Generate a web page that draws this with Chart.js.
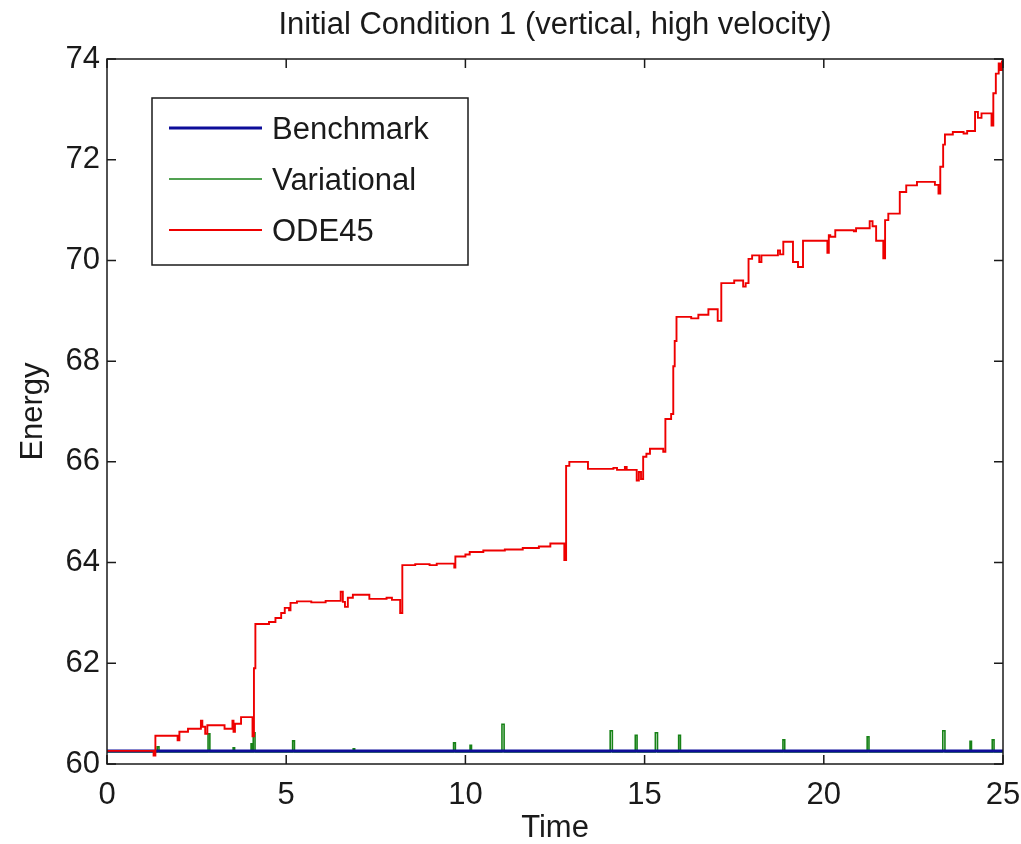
<!DOCTYPE html>
<html>
<head>
<meta charset="utf-8">
<title>Initial Condition 1 (vertical, high velocity)</title>
<script src="https://cdn.jsdelivr.net/npm/chart.js@4/dist/chart.umd.min.js"></script>
<style>
    html, body { margin: 0; padding: 0; background: #fff; }
</style>
</head>
<body>
<canvas id="energyChart" width="1021" height="844"></canvas>
<script>
// Benchmark: flat energy
const benchTime = [0, 25];
const benchEnergy = [60.26, 60.26];

// Variational: stays on the benchmark, with short spikes (value holds until next time)
const varTime = [0, 1.40, 1.45, 2.82, 2.87, 3.52, 3.56, 4.02, 4.05, 4.08, 4.13, 5.18, 5.23, 6.87, 6.91,
    9.67, 9.72, 10.13, 10.17, 11.02, 11.08, 14.04, 14.10, 14.74, 14.79, 15.30, 15.36, 15.95, 16.00,
    18.86, 18.91, 21.21, 21.26, 23.32, 23.38, 24.08, 24.12, 24.70, 24.75, 25];
const varEnergy = [60.24, 60.34, 60.24, 60.60, 60.24, 60.32, 60.24, 60.40, 60.24, 60.62, 60.24, 60.46, 60.24, 60.30, 60.24,
    60.42, 60.24, 60.37, 60.24, 60.79, 60.24, 60.66, 60.24, 60.57, 60.24, 60.62, 60.24, 60.57, 60.24,
    60.48, 60.24, 60.54, 60.24, 60.66, 60.24, 60.45, 60.24, 60.48, 60.24, 60.24];

// ODE45: staircase drift (value holds until next time)
const odeTime = [0, 1.30, 1.35, 1.97, 2.02, 2.26, 2.62, 2.66, 2.74, 2.80, 3.28, 3.50, 3.53, 3.57, 3.74,
    4.06, 4.10, 4.14, 4.52, 4.70, 4.86, 4.96, 5.08, 5.12, 5.30, 5.70, 6.10, 6.52, 6.58, 6.64, 6.72,
    6.86, 7.32, 7.80, 7.95, 8.18, 8.24, 8.60, 9.00, 9.20, 9.69, 9.72, 10.00, 10.12, 10.50, 11.10,
    11.60, 12.05, 12.37, 12.76, 12.81, 12.90, 13.42, 14.13, 14.23, 14.45, 14.50, 14.78, 14.84, 14.90,
    14.96, 15.05, 15.15, 15.52, 15.58, 15.74, 15.80, 15.84, 15.89, 16.30, 16.50, 16.78, 17.04, 17.14,
    17.50, 17.75, 17.82, 17.90, 18.00, 18.20, 18.26, 18.72, 18.78, 18.87, 19.14, 19.28, 19.42, 20.10,
    20.14, 20.18, 20.32, 20.84, 20.90, 21.28, 21.36, 21.46, 21.66, 21.71, 21.80, 22.12, 22.30, 22.60,
    23.10, 23.20, 23.25, 23.33, 23.38, 23.60, 23.90, 24.00, 24.22, 24.30, 24.40, 24.68, 24.73, 24.80,
    24.88, 24.93, 24.97, 25];
const odeEnergy = [60.26, 60.17, 60.56, 60.47, 60.64, 60.70, 60.86, 60.74, 60.60, 60.77, 60.70, 60.86, 60.64, 60.80, 60.93,
    60.55, 61.90, 62.78, 62.82, 62.90, 63.00, 63.10, 63.05, 63.20, 63.23, 63.21, 63.24, 63.42, 63.22, 63.12, 63.30,
    63.36, 63.28, 63.30, 63.26, 63.00, 63.95, 63.97, 63.95, 63.98, 63.90, 64.12, 64.16, 64.21, 64.24, 64.26,
    64.29, 64.32, 64.38, 64.05, 65.92, 66.00, 65.86, 65.88, 65.84, 65.90, 65.84, 65.63, 65.80, 65.66,
    66.10, 66.16, 66.26, 66.20, 66.85, 66.95, 67.90, 68.40, 68.88, 68.85, 68.92, 69.03, 68.80, 69.55,
    69.60, 69.48, 69.55, 70.03, 70.10, 69.97, 70.10, 70.20, 70.12, 70.37, 69.97, 69.87, 70.39, 70.15,
    70.50, 70.47, 70.60, 70.58, 70.64, 70.78, 70.68, 70.39, 70.04, 70.80, 70.93, 71.36, 71.49, 71.56,
    71.50, 71.33, 71.86, 72.30, 72.50, 72.55, 72.52, 72.57, 72.95, 72.83, 72.92, 72.68, 73.32, 73.71,
    73.91, 73.78, 73.95, 73.95];

const xTicks = [0, 5, 10, 15, 20, 25];
const yTicks = [60, 62, 64, 66, 68, 70, 72, 74];

const inkColor = "#1a1a1a";
const fontFamily = '"Liberation Sans", Arial, Helvetica, sans-serif';
Chart.defaults.font.family = fontFamily;
Chart.defaults.color = inkColor;

function toPoints(xs, ys) {
    return xs.map((x, i) => ({ x: x, y: ys[i] }));
}

// caja de ejes estilo MATLAB, con marcas hacia dentro
const boxAxes = {
    id: "boxAxes",
    afterDatasetsDraw(chart) {
        const { ctx, chartArea: a, scales } = chart;
        ctx.save();
        ctx.strokeStyle = inkColor;
        ctx.lineWidth = 1.5;
        ctx.strokeRect(a.left, a.top, a.right - a.left, a.bottom - a.top);
        ctx.beginPath();
        scales.x.ticks.forEach((t) => {
            const px = scales.x.getPixelForValue(t.value);
            ctx.moveTo(px, a.bottom); ctx.lineTo(px, a.bottom - 9);
            ctx.moveTo(px, a.top); ctx.lineTo(px, a.top + 9);
        });
        scales.y.ticks.forEach((t) => {
            const py = scales.y.getPixelForValue(t.value);
            ctx.moveTo(a.left, py); ctx.lineTo(a.left + 9, py);
            ctx.moveTo(a.right, py); ctx.lineTo(a.right - 9, py);
        });
        ctx.stroke();
        ctx.restore();
    }
};

// leyenda dentro del área, como en la figura original
const boxLegend = {
    id: "boxLegend",
    afterDraw(chart) {
        const { ctx, chartArea: a } = chart;
        const left = a.left + 45, top = a.top + 39, w = 316, h = 167;
        ctx.save();
        ctx.fillStyle = "#fff";
        ctx.fillRect(left, top, w, h);
        ctx.strokeStyle = inkColor;
        ctx.lineWidth = 1.5;
        ctx.strokeRect(left, top, w, h);
        ctx.font = "31px " + fontFamily;
        ctx.textBaseline = "middle";
        chart.data.datasets.forEach((ds, i) => {
            const y = top + 30 + i * 51;
            ctx.strokeStyle = ds.borderColor;
            ctx.lineWidth = ds.borderWidth;
            ctx.beginPath();
            ctx.moveTo(left + 17, y);
            ctx.lineTo(left + 110, y);
            ctx.stroke();
            ctx.fillStyle = inkColor;
            ctx.fillText(ds.label, left + 120, y + 2);
        });
        ctx.restore();
    }
};

new Chart(document.getElementById("energyChart"), {
    type: "line",
    data: {
        datasets: [
            {
                label: "Benchmark",
                data: toPoints(benchTime, benchEnergy),
                borderColor: "#0d0d99",
                borderWidth: 3,
                pointRadius: 0,
                order: 1
            },
            {
                label: "Variational",
                data: toPoints(varTime, varEnergy),
                borderColor: "#178217",
                borderWidth: 1.6,
                pointRadius: 0,
                stepped: true,
                order: 2
            },
            {
                label: "ODE45",
                data: toPoints(odeTime, odeEnergy),
                borderColor: "#ee0000",
                borderWidth: 1.9,
                pointRadius: 0,
                stepped: true,
                order: 0
            }
        ]
    },
    options: {
        responsive: false,
        animation: false,
        layout: { padding: { left: 0, right: 18, top: 0, bottom: 0 } },
        plugins: {
            legend: { display: false },
            tooltip: { enabled: false },
            title: {
                display: true,
                text: "Initial Condition 1 (vertical, high velocity)",
                fullSize: false,
                color: inkColor,
                font: { size: 31, weight: "normal", lineHeight: 1.2 },
                padding: { top: 7, bottom: 14.8 }
            }
        },
        scales: {
            x: {
                type: "linear",
                min: 0,
                max: 25,
                afterBuildTicks(scale) { scale.ticks = xTicks.map((v) => ({ value: v })); },
                ticks: { padding: 13, maxRotation: 0, color: inkColor, font: { size: 31 } },
                grid: { display: false, drawTicks: false },
                border: { display: false },
                title: {
                    display: true, text: "Time", color: inkColor,
                    font: { size: 31, lineHeight: 1 }, padding: { top: 0, bottom: 0 }
                },
                afterFit(scale) {
                    scale.height = 80;
                    scale.paddingLeft = 0;
                    scale.paddingRight = 0;
                }
            },
            y: {
                min: 60,
                max: 74,
                afterBuildTicks(scale) { scale.ticks = yTicks.map((v) => ({ value: v })); },
                ticks: { padding: 7, color: inkColor, font: { size: 31 } },
                grid: { display: false, drawTicks: false },
                border: { display: false },
                title: {
                    display: true, text: "Energy", color: inkColor,
                    font: { size: 31, lineHeight: 1 }, padding: { top: 18, bottom: 0 }
                },
                afterFit(scale) { scale.width = 107; }
            }
        }
    },
    plugins: [boxAxes, boxLegend]
});
</script>
</body>
</html>
